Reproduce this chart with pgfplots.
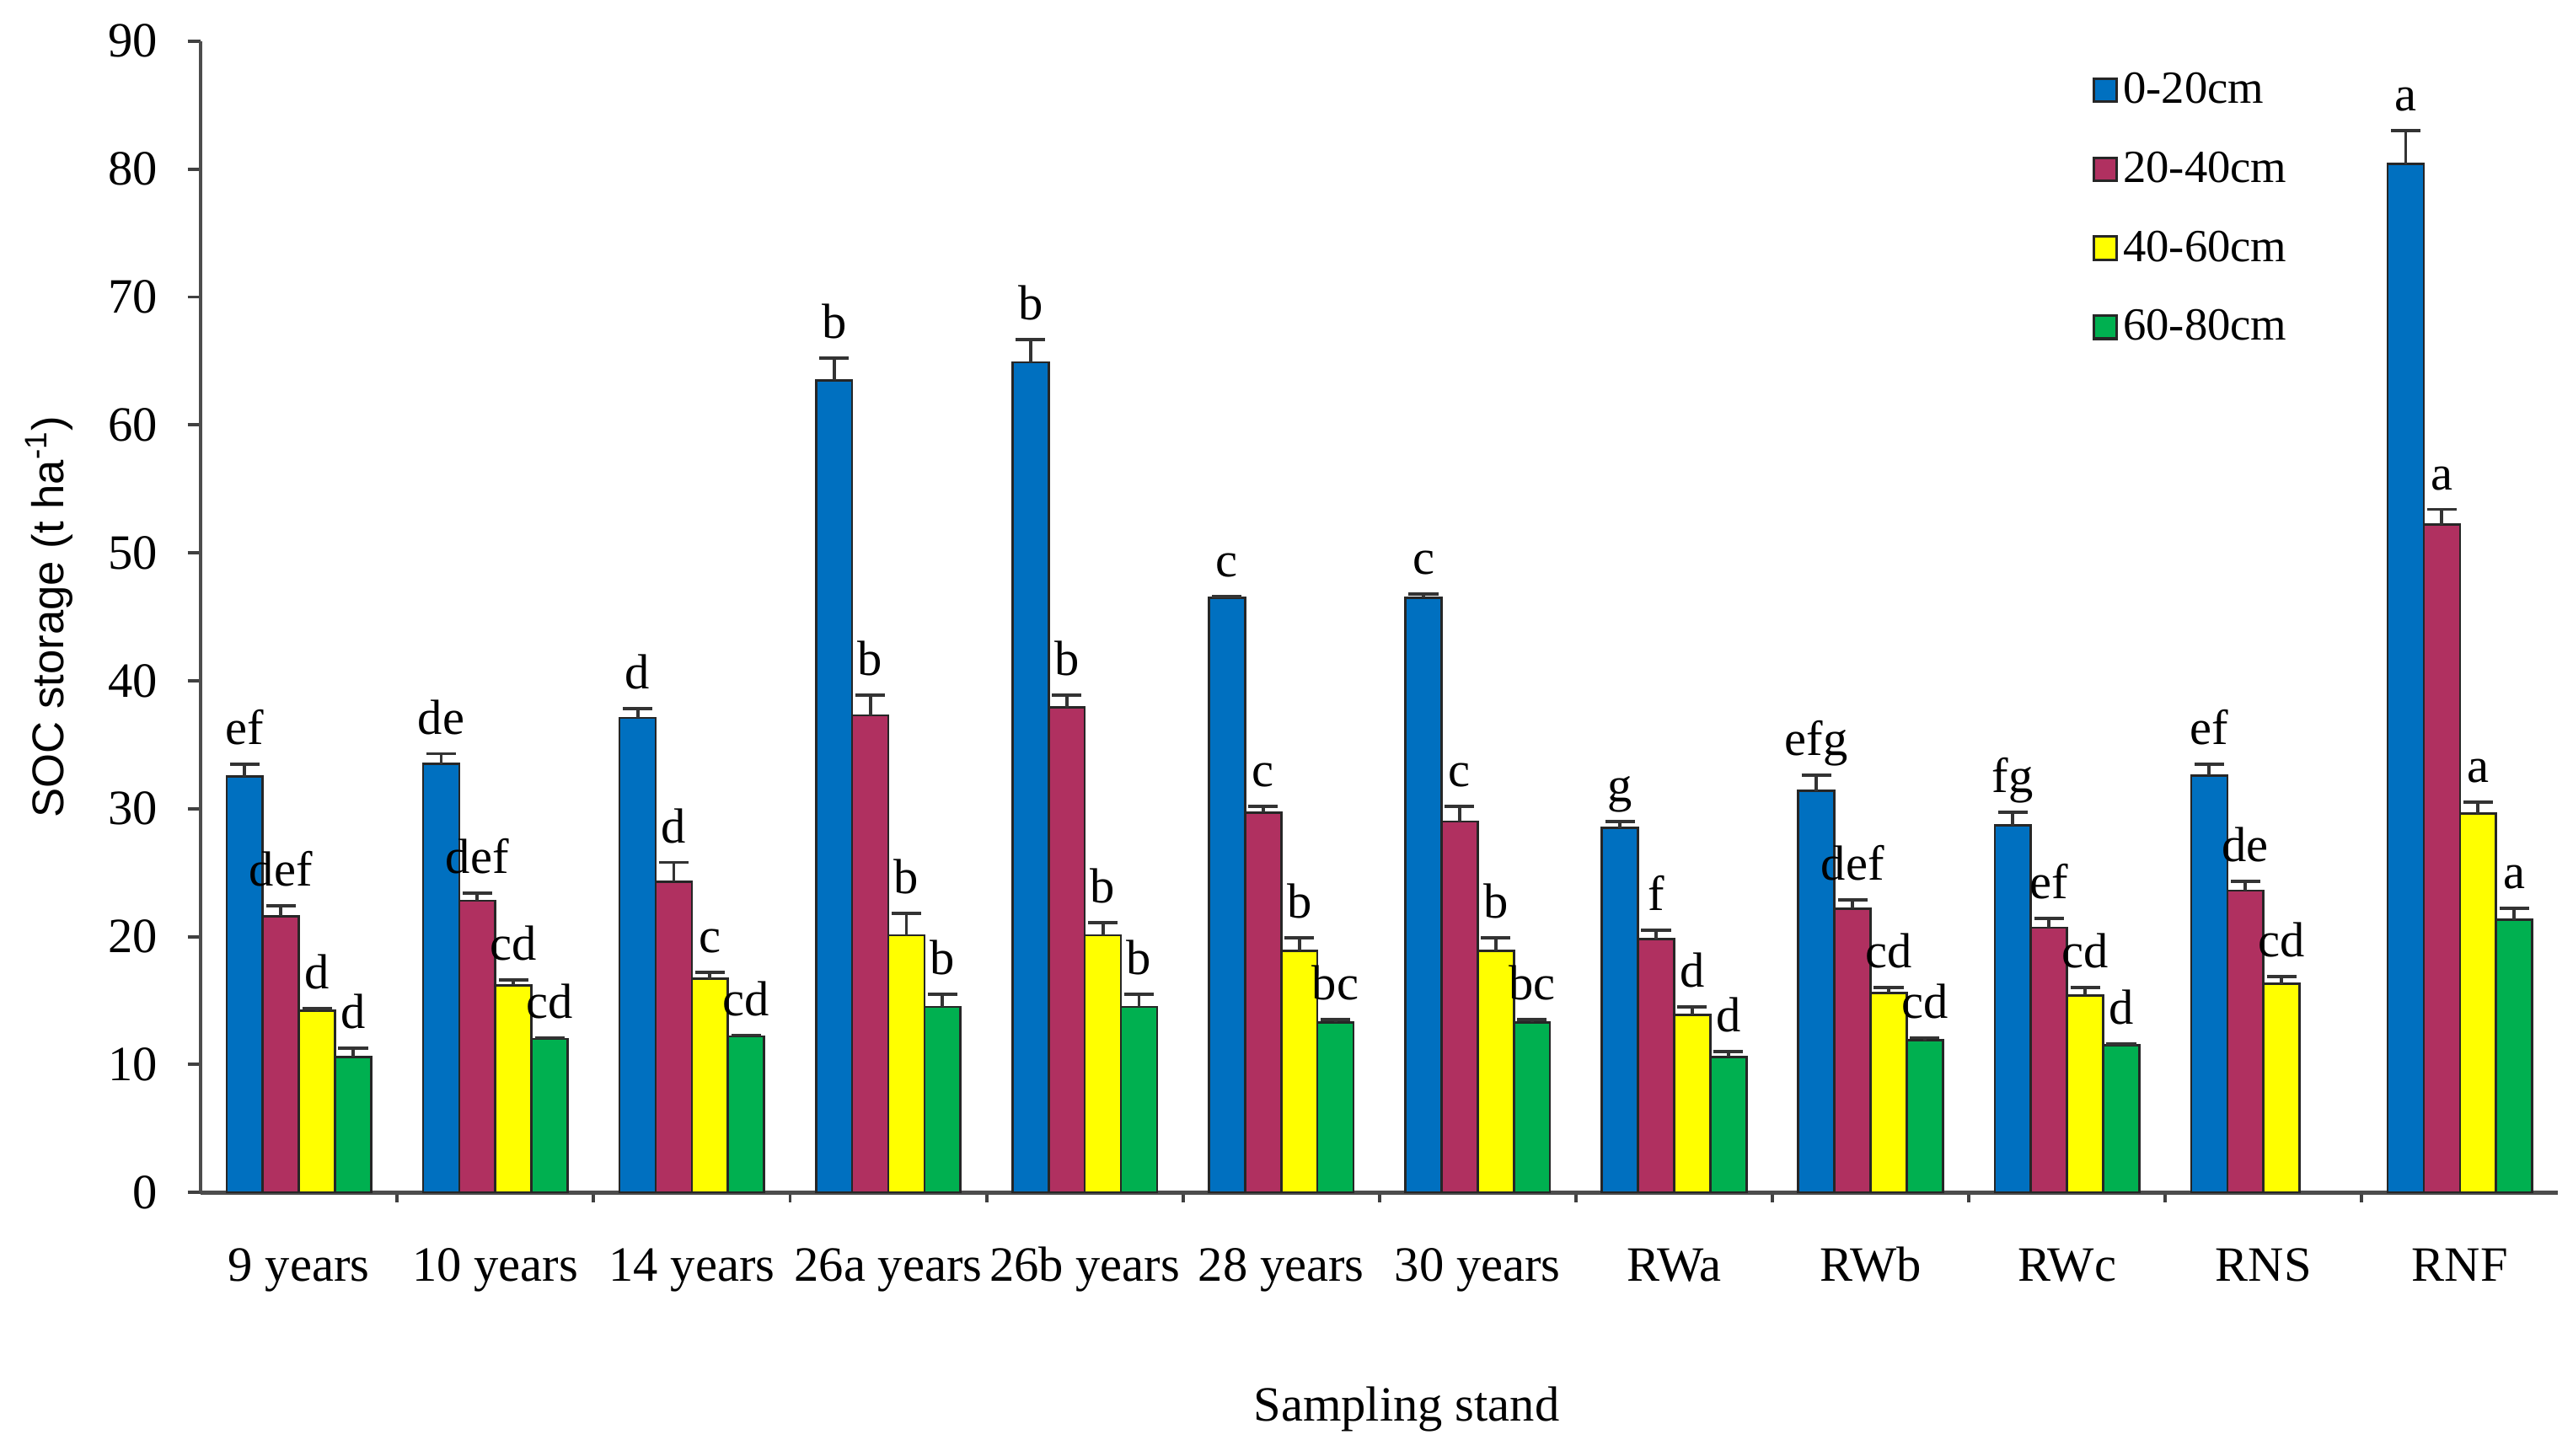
\documentclass[border=0pt]{standalone}
\usepackage{pgfplots}
\pgfplotsset{compat=1.18}
\usepackage{pgfplotstable}
\usepackage{fontspec}
\setmainfont{Liberation Serif}
\setsansfont{Liberation Sans}
\definecolor{cblue}{HTML}{0070C0}
\definecolor{cpurple}{HTML}{B03060}
\definecolor{cyellow}{HTML}{FFFF00}
\definecolor{cgreen}{HTML}{00B050}

\pgfplotstableread{
x y e lab
0 32.5 1.0 ef
1 33.5 0.8 de
2 37.1 0.7 d
3 63.5 1.7 b
4 64.9 1.8 b
5 46.5 0.1 c
6 46.5 0.3 c
7 28.5 0.5 g
8 31.4 1.2 efg
9 28.7 1.0 fg
10 32.6 0.9 ef
11 80.4 2.6 a
}\tblA
\pgfplotstableread{
x y e lab
0 21.6 0.8 def
1 22.8 0.6 def
2 24.3 1.5 d
3 37.3 1.6 b
4 37.9 1.0 b
5 29.7 0.5 c
6 29.0 1.2 c
7 19.8 0.7 f
8 22.2 0.7 def
9 20.7 0.7 ef
10 23.6 0.7 de
11 52.2 1.2 a
}\tblB
\pgfplotstableread{
x y e lab
0 14.2 0.2 d
1 16.2 0.4 cd
2 16.7 0.5 c
3 20.1 1.7 b
4 20.1 1.0 b
5 18.9 1.0 b
6 18.9 1.0 b
7 13.9 0.6 d
8 15.6 0.4 cd
9 15.4 0.6 cd
10 16.3 0.6 cd
11 29.6 0.9 a
}\tblC
\pgfplotstableread{
x y e lab
0 10.6 0.7 d
1 12.0 0.1 cd
2 12.2 0.1 cd
3 14.5 1.0 b
4 14.5 1.0 b
5 13.3 0.2 bc
6 13.3 0.2 bc
7 10.6 0.4 d
8 11.9 0.2 cd
9 11.5 0.1 d
11 21.3 0.9 a
}\tblD

\begin{document}
\begin{tikzpicture}
\useasboundingbox (-90.85pt,-80pt) rectangle (691.15pt,362.5pt);
\begin{axis}[
  at={(0,0)}, anchor=origin,
  scale only axis,
  width=716.5pt, height=350pt,
  xmin=-0.5, xmax=11.5,
  ymin=0, ymax=90,
  ytick={0,10,...,90},
  xtick={0,...,11},
  xticklabels={9 years,10 years,14 years,26a years,26b years,28 years,30 years,RWa,RWb,RWc,RNS,RNF},
  minor xtick={0.5,1.5,...,10.5},
  major x tick style={draw=none},
  minor x tick style={line width=1pt, black!75},
  minor tick length=3pt,
  axis x line*=bottom,
  axis y line*=left,
  axis line style={line width=1.2pt, black!70},
  y tick style={line width=1pt, black!75},
  ytick align=outside,
  major tick length=4pt,
  /pgf/number format/assume math mode=true,
  ticklabel style={font=\fontsize{15}{18}\selectfont},
  xticklabel style={anchor=base, yshift=-23pt},
  yticklabel style={anchor=east, inner sep=0pt, xshift=-9pt},
  xlabel={Sampling stand},
  ylabel={SOC storage (t ha\textsuperscript{-1})},
  every axis x label/.style={at={(axis description cs:0.5115,-0.1886)}, anchor=center, font=\fontsize{15}{18}\selectfont},
  every axis y label/.style={at={(axis description cs:-0.0642,0.5)}, rotate=90, anchor=center, font=\sffamily\fontsize{13.5}{16}\selectfont},
  bar width=0.184,
  ybar,
  legend style={at={(0.798,0.985)}, anchor=north west, draw=none, fill=none,
    font=\fontsize{14}{16}\selectfont, row sep=9pt,
    nodes={inner sep=1.5pt, text height=10pt, text depth=2pt}},
  legend cell align=left,
  legend image code/.code={\draw[#1, line width=0.8pt] (0pt,-3.5pt) rectangle (7pt,3.5pt);},
  nodes near coords,
  point meta=explicit symbolic,
  visualization depends on={3.8889*\thisrow{e}+6 \as \lshift},
  every node near coord/.append style={anchor=base, yshift=\lshift pt, font=\fontsize{15}{18}\selectfont, text=black, inner sep=0pt},
  error bars/y dir=plus,
  error bars/y explicit,
  error bars/error bar style={line width=1pt, black!80},
  error bars/error mark options={rotate=90, mark size=4.5pt, line width=1pt, black!80},
]
\addplot[fill=cblue, draw=black!85, line width=0.7pt, bar shift=-0.276] table[x=x, y=y, y error=e, meta=lab] {\tblA};
\addplot[fill=cpurple, draw=black!85, line width=0.7pt, bar shift=-0.092] table[x=x, y=y, y error=e, meta=lab] {\tblB};
\addplot[fill=cyellow, draw=black!85, line width=0.7pt, bar shift=0.092] table[x=x, y=y, y error=e, meta=lab] {\tblC};
\addplot[fill=cgreen, draw=black!85, line width=0.7pt, bar shift=0.276] table[x=x, y=y, y error=e, meta=lab] {\tblD};
\legend{0-20cm,20-40cm,40-60cm,60-80cm}
\end{axis}
\end{tikzpicture}
\end{document}
